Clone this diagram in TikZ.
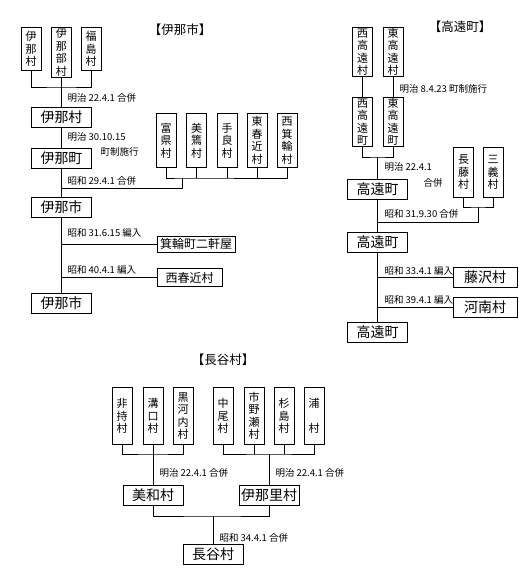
\documentclass[tikz,border=0pt]{standalone}
\usepackage{fontspec}
\setmainfont{Noto Sans CJK JP}
\begin{document}
\begin{tikzpicture}[x=1pt, y=-1pt, line width=1pt,
    tate/.style={draw, minimum width=20pt, inner sep=0pt, anchor=north, align=center, font=\fontsize{11}{12.5}\selectfont},
    yoko/.style={draw, minimum width=60pt, minimum height=20pt, inner sep=0pt, font=\fontsize{14}{16}\selectfont},
    hen/.style={draw, minimum height=18pt, inner sep=0pt, font=\fontsize{12}{14}\selectfont},
    lbl/.style={anchor=west, inner sep=0pt, font=\fontsize{9.5}{11}\selectfont},
    ttl/.style={font=\fontsize{12.5}{14}\selectfont}]
    \useasboundingbox (0,0) rectangle (519,579);
    % 伊那市
    \node[ttl] (t1) at (180,30) {【伊那市】};
    \node[tate, minimum height=43] (inamura0) at (31,27) {伊\\那\\村};
    \node[tate, minimum height=50] (inabe) at (61.5,27) {伊\\那\\部\\村};
    \node[tate, minimum height=43] (fukushima) at (91,27) {福\\島\\村};
    \node[yoko] (inamura) at (61.5,117.5) {伊那村};
    \node[yoko] (inacho) at (61.5,158) {伊那町};
    \node[yoko] (inashi) at (61.5,207) {伊那市};
    \node[yoko] (inashi2) at (61.5,303) {伊那市};
    \coordinate (g1) at (61.5,87);
    \draw (inamura0.south) |- (g1) -| (fukushima.south);
    \draw (inabe.south) -- (inamura.north);
    \draw (inamura.south) -- (inacho.north);
    \draw (inacho.south) -- (inashi.north);
    \draw (inashi.south) -- (inashi2.north);
    \node[tate, minimum height=54] (tomigata) at (166,113) {富\\県\\村};
    \node[tate, minimum height=54] (mibu) at (196.5,113) {美\\篶\\村};
    \node[tate, minimum height=54] (tera) at (227,113) {手\\良\\村};
    \node[tate, minimum height=54] (higashiharuchika) at (257,113) {東\\春\\近\\村};
    \node[tate, minimum height=54] (nishiminowa) at (287,113) {西\\箕\\輪\\村};
    \coordinate (g2) at (182,178);
    \coordinate (g3) at (61.5,188);
    \draw (tomigata.south) |- (g2) -| (nishiminowa.south);
    \foreach \n in {mibu,tera,higashiharuchika}
        \draw (\n.south) -- (\n.south |- g2);
    \draw (g2) |- (g3);
    \node[hen, minimum width=78, minimum height=16] (minowa) at (196,244) {箕輪町二軒屋};
    \node[hen, minimum width=65] (nishiharu) at (189.5,277.5) {西春近村};
    \draw (minowa.west) -- (minowa.west -| inashi.south);
    \draw (nishiharu.west) -- (nishiharu.west -| inashi.south);
    \node[lbl] (d1) at (67,98) {明治 22.4.1 合併};
    \node[lbl] (d2) at (67,137) {明治 30.10.15};
    \node[lbl] (d3) at (100,152) {町制施行};
    \node[lbl] (d4) at (67,181) {昭和 29.4.1 合併};
    \node[lbl] (d5) at (67,233) {昭和 31.6.15 編入};
    \node[lbl] (d6) at (67,270) {昭和 40.4.1 編入};
    % 高遠町
    \node[ttl] (t2) at (460,27) {【高遠町】};
    \node[tate, minimum height=49] (nishitakatomura) at (362.5,27) {西\\高\\遠\\村};
    \node[tate, minimum height=49] (higashitakatomura) at (393,27) {東\\高\\遠\\村};
    \node[tate, minimum height=49] (nishitakatomachi) at (362.5,97) {西\\高\\遠\\町};
    \node[tate, minimum height=49] (higashitakatomachi) at (393,97) {東\\高\\遠\\町};
    \draw (nishitakatomura.south) -- (nishitakatomachi.north);
    \draw (higashitakatomura.south) -- (higashitakatomachi.north);
    \coordinate (g4) at (377.5,157);
    \draw (nishitakatomachi.south) |- (g4) -| (higashitakatomachi.south);
    \node[yoko] (takato) at (377.5,189) {高遠町};
    \draw (g4) -- (takato.north);
    \node[tate, minimum height=50] (osafuji) at (463.5,147) {長\\藤\\村};
    \node[tate, minimum height=50] (miyoshi) at (493,147) {三\\義\\村};
    \coordinate (g5) at (478,207);
    \coordinate (g6) at (377.5,222);
    \draw (osafuji.south) |- (g5) -| (miyoshi.south);
    \draw (g5) |- (g6);
    \node[yoko] (takato2) at (377.5,242) {高遠町};
    \draw (takato.south) -- (takato2.north);
    \node[yoko, minimum width=64] (fujisawa) at (485,277.5) {藤沢村};
    \node[yoko, minimum width=64] (kanan) at (485,307.5) {河南村};
    \node[yoko] (takato3) at (377.5,332.5) {高遠町};
    \draw (takato2.south) -- (takato3.north);
    \draw (fujisawa.west) -- (fujisawa.west -| takato2.south);
    \draw (kanan.west) -- (kanan.west -| takato2.south);
    \node[lbl] (d7) at (399,89) {明治 8.4.23 町制施行};
    \node[lbl] (d8) at (384,167) {明治 22.4.1};
    \node[lbl] (d9) at (423,183) {合併};
    \node[lbl] (d10) at (384,214) {昭和 31.9.30 合併};
    \node[lbl] (d11) at (384,271) {昭和 33.4.1 編入};
    \node[lbl] (d12) at (384,300) {昭和 39.4.1 編入};
    % 長谷村
    \node[ttl] (t3) at (223,360) {【長谷村】};
    \node[tate, minimum height=57] (hiji) at (122,387) {非\\持\\村};
    \node[tate, minimum height=57] (mizoguchi) at (153,387) {溝\\口\\村};
    \node[tate, minimum height=57] (kurokochi) at (183,387) {黒\\河\\内\\村};
    \node[tate, minimum height=57] (nakao) at (223,387) {中\\尾\\村};
    \node[tate, minimum height=57] (ichinose) at (254,387) {市\\野\\瀬\\村};
    \node[tate, minimum height=57] (sugishima) at (284,387) {杉\\島\\村};
    \node[tate, minimum height=57] (ura) at (314,387) {浦\\\mbox{}\\村};
    \coordinate (g7) at (153,454);
    \coordinate (g8) at (269,454);
    \draw (hiji.south) |- (g7) -| (kurokochi.south);
    \draw (nakao.south) |- (g8) -| (ura.south);
    \foreach \n in {ichinose,sugishima}
        \draw (\n.south) -- (\n.south |- g8);
    \node[yoko] (miwa) at (153,495) {美和村};
    \node[yoko] (inasato) at (269,495) {伊那里村};
    \draw (mizoguchi.south) -- (miwa.north);
    \draw (g8) -- (inasato.north);
    \coordinate (g9) at (213,516);
    \draw (miwa.south) |- (g9) -| (inasato.south);
    \node[yoko] (hase) at (213,554.5) {長谷村};
    \draw (g9) -- (hase.north);
    \node[lbl] (d13) at (159,473) {明治 22.4.1 合併};
    \node[lbl] (d14) at (275,473) {明治 22.4.1 合併};
    \node[lbl] (d15) at (219,538) {昭和 34.4.1 合併};
\end{tikzpicture}
\end{document}
